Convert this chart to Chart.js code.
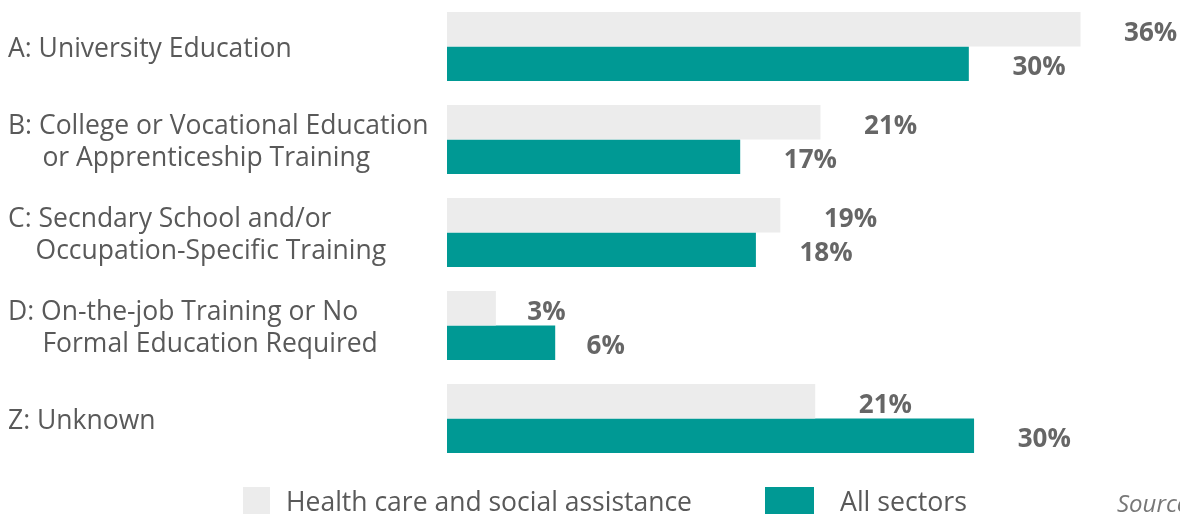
<!DOCTYPE html>
<html>
<head>
<meta charset="utf-8">
<script src="https://cdn.jsdelivr.net/npm/chart.js@4/dist/chart.umd.min.js"></script>
<style>
  html, body { margin: 0; padding: 0; background: #ffffff; overflow: hidden; }
  #wrap { width: 1180px; height: 515px; position: relative; }
</style>
</head>
<body>
<div id="wrap"><canvas id="c" width="1180" height="515"></canvas></div>
<script>
// ---- data ----
const categories = [
  ["A: University Education"],
  ["B: College or Vocational Education", "     or Apprenticeship Training"],
  ["C: Secndary School and/or", "    Occupation-Specific Training"],
  ["D: On-the-job Training or No", "     Formal Education Required"],
  ["Z: Unknown"]
];
const seriesNames = ["Health care and social assistance", "All sectors"];
const healthCare = [36.3, 21.4, 19.1, 2.8, 21.1];
const allSectors = [29.9, 16.8, 17.7, 6.2, 30.2];
const sourceText = "Source: Statistics Canada";

const GREY = "#ececec";
const TEAL = "#009994";
const TEXT = "#595959";

const shiftTicks = {
  id: "shiftTicks",
  beforeDraw(chart) {
    const scale = chart.scales.y;
    scale._labelItems = null;
    const items = scale.getLabelItems(chart.chartArea);
    items.forEach(it => {
      const t = it.options.translation;
      it.options = Object.assign({}, it.options, { translation: [t[0], t[1] + 3] });
    });
  }
};

const valueLabels = {
  id: "valueLabels",
  afterDatasetsDraw(chart) {
    const ctx = chart.ctx;
    ctx.save();
    ctx.font = "bold 26px 'Open Sans'";
    ctx.fillStyle = "#666666";
    ctx.textAlign = "left";
    ctx.textBaseline = "middle";
    chart.data.datasets.forEach((ds, di) => {
      const meta = chart.getDatasetMeta(di);
      meta.data.forEach((bar, i) => {
        const txt = Math.round(ds.data[i]) + "%";
        const w = ctx.measureText(txt).width;
        ctx.fillText(txt, bar.x + w * 0.82, bar.y + 4);
      });
    });
    ctx.restore();
  }
};

const bottomLegend = {
  id: "bottomLegend",
  afterDraw(chart) {
    const ctx = chart.ctx;
    const items = [
      { box: [243, 487, 27, 27], tx: 286, maxW: 406 },
      { box: [765, 487, 49, 27], tx: 840, maxW: 127 }
    ];
    ctx.save();
    chart.data.datasets.forEach((ds, i) => {
      const it = items[i];
      ctx.fillStyle = ds.backgroundColor;
      ctx.fillRect(it.box[0], it.box[1], it.box[2], it.box[3]);
      ctx.fillStyle = TEXT;
      ctx.font = "28px 'Open Sans'";
      ctx.textAlign = "left";
      ctx.textBaseline = "alphabetic";
      ctx.fillText(ds.label, it.tx, 511, it.maxW);
    });
    ctx.font = "italic 24px 'Open Sans'";
    ctx.fillStyle = "#777777";
    ctx.fillText(sourceText, 1117, 512);
    ctx.restore();
  }
};

new Chart(document.getElementById("c"), {
  type: "bar",
  data: {
    labels: categories,
    datasets: [
      { label: seriesNames[0], data: healthCare, backgroundColor: GREY },
      { label: seriesNames[1], data: allSectors, backgroundColor: TEAL }
    ]
  },
  options: {
    indexAxis: "y",
    responsive: false,
    animation: false,
    devicePixelRatio: 1,
    layout: { padding: { left: 8, right: 0, top: 0, bottom: 50 } },
    datasets: { bar: { categoryPercentage: 0.74, barPercentage: 1.0, borderWidth: 0 } },
    plugins: { legend: { display: false }, tooltip: { enabled: false } },
    scales: {
      x: { display: false, min: 0, max: 42 },
      y: {
        grid: { display: false },
        border: { display: false },
        ticks: {
          crossAlign: "far",
          color: TEXT,
          font: { family: "'Open Sans'", size: 26.5, lineHeight: 1.2 },
          padding: 0
        },
        afterFit(scale) {
          scale.width = 439;
          scale.paddingTop = 0;
          scale.paddingBottom = 0;
        }
      }
    }
  },
  plugins: [shiftTicks, valueLabels, bottomLegend]
});
</script>
</body>
</html>
